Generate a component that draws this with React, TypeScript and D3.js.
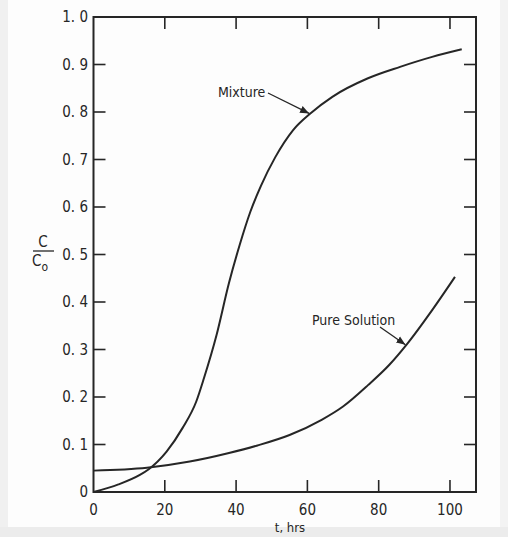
import React, { useEffect, useRef } from "react"
import * as d3 from "d3"

// values
const mixtureT = [0, 7, 13, 15.5, 20.5, 25, 28.8, 31, 34.5, 38, 41, 44, 47, 51, 56, 61, 67, 77, 86, 95, 103.3]
const mixtureC = [0, 0.016, 0.036, 0.048, 0.085, 0.135, 0.19, 0.24, 0.33, 0.44, 0.52, 0.59, 0.645, 0.705, 0.762, 0.798, 0.832, 0.871, 0.895, 0.916, 0.932]
const pureT = [0, 15, 27, 38, 46, 55, 64, 70, 77, 83, 88, 95, 101.4]
const pureC = [0.045, 0.051, 0.064, 0.082, 0.098, 0.12, 0.152, 0.18, 0.225, 0.268, 0.312, 0.383, 0.453]
const xTicks = [0, 20, 40, 60, 80, 100]
const yTicks = [0, 0.1, 0.2, 0.3, 0.4, 0.5, 0.6, 0.7, 0.8, 0.9, 1.0]

const width = 508
const height = 537
const ink = "#262626"
const font = "'DejaVu Sans Condensed', 'DejaVu Sans', sans-serif"

export default function App() {
  const ref = useRef<SVGSVGElement | null>(null)

  useEffect(() => {
    const svg = d3.select(ref.current)
    svg.selectAll("*").remove()

    // scan background
    svg.append("rect").attr("width", width).attr("height", height).attr("fill", "#fdfdfd")
    svg.append("rect").attr("x", 0).attr("y", 0).attr("width", 8).attr("height", height).attr("fill", "#f0f0f0")
    svg.append("rect").attr("x", 500).attr("y", 0).attr("width", 8).attr("height", height).attr("fill", "#f3f3f3")
    svg.append("rect").attr("x", 0).attr("y", 527).attr("width", width).attr("height", 10).attr("fill", "#ececec")

    const x = d3.scaleLinear().domain([0, 107.3]).range([93.5, 476])
    const y = d3.scaleLinear().domain([0, 1]).range([492, 17])

    const g = svg.append("g")

    // frame
    g.append("rect")
      .attr("x", x(0))
      .attr("y", y(1))
      .attr("width", x(107.3) - x(0))
      .attr("height", y(0) - y(1))
      .attr("fill", "none")
      .attr("stroke", ink)
      .attr("stroke-width", 2)

    const tl = 12
    const inner = xTicks.filter(d => d > 0)
    // bottom & top ticks
    g.selectAll(".xb")
      .data(inner)
      .enter()
      .append("line")
      .attr("x1", d => x(d))
      .attr("x2", d => x(d))
      .attr("y1", y(0))
      .attr("y2", y(0) - tl)
      .attr("stroke", ink)
      .attr("stroke-width", 1.6)
    g.selectAll(".xt")
      .data(inner)
      .enter()
      .append("line")
      .attr("x1", d => x(d))
      .attr("x2", d => x(d))
      .attr("y1", y(1))
      .attr("y2", y(1) + tl)
      .attr("stroke", ink)
      .attr("stroke-width", 1.6)

    const yInner = yTicks.filter(d => d > 0 && d < 1)
    g.selectAll(".yl")
      .data(yInner)
      .enter()
      .append("line")
      .attr("x1", x(0))
      .attr("x2", x(0) + tl)
      .attr("y1", d => y(d))
      .attr("y2", d => y(d))
      .attr("stroke", ink)
      .attr("stroke-width", 1.6)
    g.selectAll(".yr")
      .data(yInner)
      .enter()
      .append("line")
      .attr("x1", x(107.3))
      .attr("x2", x(107.3) - tl)
      .attr("y1", d => y(d))
      .attr("y2", d => y(d))
      .attr("stroke", ink)
      .attr("stroke-width", 1.6)

    // tick labels
    g.selectAll(".xlab")
      .data(xTicks)
      .enter()
      .append("text")
      .attr("x", d => x(d))
      .attr("y", 515)
      .attr("text-anchor", "middle")
      .style("font-family", font)
      .style("font-size", "15px")
      .attr("fill", ink)
      .text(d => d)

    g.selectAll(".ylab")
      .data(yTicks)
      .enter()
      .append("text")
      .attr("x", 88)
      .attr("y", d => y(d) + 5)
      .attr("text-anchor", "end")
      .style("font-family", font)
      .style("font-size", "15px")
      .attr("fill", ink)
      .text(d => (d === 0 ? "0" : d3.format(".1f")(d).replace(".", ". ")))

    // y axis label C / C0
    g.append("text")
      .attr("x", 43)
      .attr("y", 247)
      .attr("text-anchor", "middle")
      .style("font-family", font)
      .style("font-size", "15px")
      .attr("fill", ink)
      .text("C")
    g.append("line")
      .attr("x1", 33)
      .attr("x2", 54)
      .attr("y1", 251)
      .attr("y2", 251)
      .attr("stroke", ink)
      .attr("stroke-width", 1.3)
    const c0 = g.append("text")
      .attr("x", 40)
      .attr("y", 266)
      .attr("text-anchor", "middle")
      .style("font-family", font)
      .style("font-size", "15px")
      .attr("fill", ink)
    c0.append("tspan").text("C")
    c0.append("tspan").attr("dy", 5).style("font-size", "12px").text("o")

    // x axis label
    g.append("text")
      .attr("x", 290)
      .attr("y", 532)
      .attr("text-anchor", "middle")
      .style("font-family", font)
      .style("font-size", "13px")
      .attr("fill", ink)
      .text("t, hrs")

    // curves
    const line = d3
      .line<[number, number]>()
      .x(d => x(d[0]))
      .y(d => y(d[1]))
      .curve(d3.curveMonotoneX)

    const mixture = mixtureT.map((t, i) => [t, mixtureC[i]] as [number, number])
    const pure = pureT.map((t, i) => [t, pureC[i]] as [number, number])

    g.selectAll(".curve")
      .data([mixture, pure])
      .enter()
      .append("path")
      .attr("d", d => line(d))
      .attr("fill", "none")
      .attr("stroke", ink)
      .attr("stroke-width", 2)

    // annotations
    const defs = svg.append("defs")
    defs.append("marker")
      .attr("id", "arrow")
      .attr("viewBox", "0 0 10 10")
      .attr("refX", 10)
      .attr("refY", 5)
      .attr("markerWidth", 7)
      .attr("markerHeight", 7)
      .attr("orient", "auto")
      .append("path")
      .attr("d", "M0,1 L10,5 L0,9 Z")
      .attr("fill", ink)

    g.append("text")
      .attr("x", 218)
      .attr("y", 97)
      .style("font-family", font)
      .style("font-size", "14px")
      .attr("fill", ink)
      .text("Mixture")
    g.append("line")
      .attr("x1", 268)
      .attr("y1", 93)
      .attr("x2", x(60.5))
      .attr("y2", y(0.797))
      .attr("stroke", ink)
      .attr("stroke-width", 1.3)
      .attr("marker-end", "url(#arrow)")

    g.append("text")
      .attr("x", 312)
      .attr("y", 325)
      .style("font-family", font)
      .style("font-size", "14px")
      .attr("fill", ink)
      .text("Pure Solution")
    g.append("line")
      .attr("x1", 380)
      .attr("y1", 327)
      .attr("x2", x(87.5))
      .attr("y2", y(0.31))
      .attr("stroke", ink)
      .attr("stroke-width", 1.3)
      .attr("marker-end", "url(#arrow)")
  }, [])

  return (
    <div style={{ position: "absolute", left: 0, top: 0 }}>
      <svg ref={ref} width={width} height={height} style={{ display: "block" }}></svg>
    </div>
  )
}
